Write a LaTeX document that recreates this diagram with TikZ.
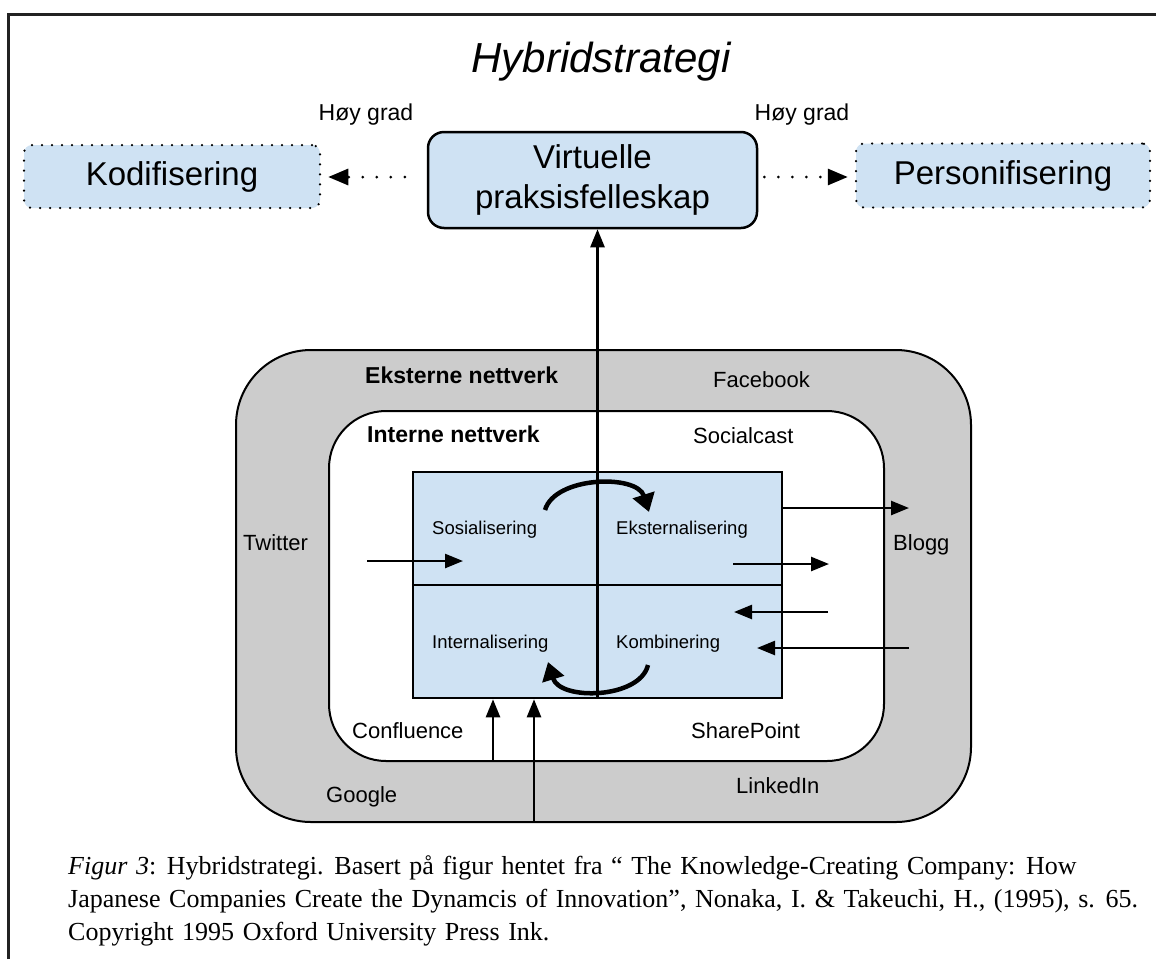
\documentclass[tikz,border=0pt]{standalone}
\usepackage{fontspec}
\setmainfont{Liberation Serif}
\setsansfont{Liberation Sans}
\usetikzlibrary{arrows.meta}
\definecolor{lblue}{HTML}{CFE2F3}
\definecolor{lgray}{HTML}{CCCCCC}
\definecolor{framec}{HTML}{222222}
\newcommand{\mycapfont}{\fontsize{26}{33}\selectfont\spaceskip=0.33em plus 0.1em minus 0.05em\relax}
\begin{document}
\begin{tikzpicture}[x=1pt,y=-1pt,
  lbl/.style={font=\sffamily\fontsize{22}{26}\selectfont, inner sep=0pt, anchor=base west},
  blbl/.style={font=\sffamily\bfseries\fontsize{23}{26}\selectfont, inner sep=0pt, anchor=base west},
  qlbl/.style={font=\sffamily\fontsize{18.5}{22}\selectfont, inner sep=0pt, anchor=base west},
  hlbl/.style={font=\sffamily\fontsize{23}{26}\selectfont, inner sep=0pt, anchor=base},
  dotbox/.style={draw, fill=lblue, line width=2.5pt, line cap=round, dash pattern=on 0pt off 10pt, rounded corners=8pt, font=\sffamily\fontsize{33}{40}\selectfont},
  mainbox/.style={draw, fill=lblue, line width=2.5pt, rounded corners=16pt, align=center, font=\sffamily\fontsize{33}{40}\selectfont},
  arr/.style={line width=2.5pt, -{Triangle[length=18pt,width=14pt]}},
  carr/.style={line width=4.5pt, -{Triangle[length=18pt,width=22pt]}},
  darr/.style={line width=3pt, line cap=round, dash pattern=on 0pt off 14pt, -{Triangle[length=20pt,width=16pt]}},
  captext/.style={inner sep=0pt, anchor=base west}
]
\useasboundingbox (0,0) rectangle (1156,959);
% frame
\draw[framec, line width=3pt] (8,959) -- (8,14) -- (1160,14);
% title
\node[font=\sffamily\itshape\fontsize{42}{48}\selectfont, inner sep=0pt, anchor=base] (title) at (601,72) {Hybridstrategi};
% top boxes
\node[dotbox, minimum width=296pt, minimum height=63pt] (kod) at (172,176.5) {Kodifisering};
\node[dotbox, minimum width=294pt, minimum height=64pt] (per) at (1003,175.5) {Personifisering};
\node[mainbox, minimum width=329pt, minimum height=96pt] (virt) at (592.5,180) {Virtuelle\\praksisfelleskap};
\node[hlbl] (hg1) at (366,120) {Høy grad};
\node[hlbl] (hg2) at (802,120) {Høy grad};
\draw[darr, shorten <=22pt, shorten >=7pt] (virt.west |- 0,177) -- (kod.east |- 0,177);
\draw[darr, shorten <=6pt, shorten >=7pt] (virt.east |- 0,177) -- (per.west |- 0,177);
% network boxes
\node[draw, fill=lgray, line width=2pt, rounded corners=75pt, minimum width=735pt, minimum height=472pt] (ext) at (603.5,586) {};
\node[draw, fill=white, line width=2pt, rounded corners=57pt, minimum width=555pt, minimum height=350pt] (int) at (606.5,586) {};
\node[draw, fill=lblue, line width=2.5pt, minimum width=369pt, minimum height=226pt] (q) at (597.5,585) {};
\draw[line width=2.5pt] (q.north) -- (q.south);
\draw[line width=2.5pt] (q.west) -- (q.east);
% labels
\node[blbl] (eksl) at (365,383) {Eksterne nettverk};
\node[blbl] (intl) at (367,442) {Interne nettverk};
\node[lbl] (fb) at (713,387) {Facebook};
\node[lbl] (sc) at (693,443) {Socialcast};
\node[lbl] (tw) at (243,550) {Twitter};
\node[lbl] (bl) at (893,550) {Blogg};
\node[lbl] (cf) at (352,738) {Confluence};
\node[lbl] (sp) at (691,738) {SharePoint};
\node[lbl] (go) at (326,802) {Google};
\node[lbl] (li) at (736,793) {LinkedIn};
\node[qlbl] (sos) at (432,534) {Sosialisering};
\node[qlbl] (eks) at (616,534) {Eksternalisering};
\node[qlbl] (inn) at (432,648) {Internalisering};
\node[qlbl] (kom) at (616,648) {Kombinering};
% vertical arrow to top box
\draw[arr] (q.north) -- (q.north |- virt.south);
% curved arrows
\coordinate (c1s) at (545,510);
\coordinate (c1e) at (649,512);
\coordinate (c2s) at (648,665);
\coordinate (c2e) at (548,662);
\draw[carr] (c1s) .. controls (555,476) and (637,474) .. (c1e);
\draw[carr] (c2s) .. controls (640,699) and (560,701) .. (c2e);
% straight arrows
\coordinate (tws) at (367,561);
\coordinate (twe) at (463,561);
\draw[arr] (tws) -- (twe);
\coordinate (bls) at (782,508);
\coordinate (ble) at (909,508);
\draw[arr] (q.east |- bls) -- (ble);
\coordinate (e1s) at (733,564);
\coordinate (e1e) at (829,564);
\draw[arr] (e1s) -- (e1e);
\coordinate (k1s) at (828,612);
\coordinate (k1e) at (734,612);
\draw[arr] (k1s) -- (k1e);
\coordinate (k2s) at (909,648);
\coordinate (k2e) at (757,648);
\draw[arr] (k2s) -- (k2e);
\coordinate (b1s) at (493,761);
\draw[arr] (b1s) -- (b1s |- q.south);
\coordinate (b2s) at (534,822);
\draw[arr] (b2s) -- (b2s |- q.south);
% caption
\node[captext] (cap1) at (68,874) {\mycapfont\textit{Figur 3}: Hybridstrategi. Basert på figur hentet fra “ The Knowledge-Creating Company: How};
\node[captext] (cap2) at (68,907) {\mycapfont Japanese Companies Create the Dynamcis of Innovation”, Nonaka, I. \& Takeuchi, H., (1995), s. 65.};
\node[captext] (cap3) at (68,940) {\mycapfont Copyright 1995 Oxford University Press Ink.};
\end{tikzpicture}
\end{document}
